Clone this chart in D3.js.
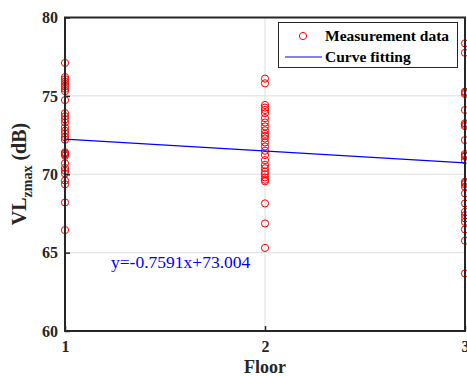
<!DOCTYPE html>
<html><head><meta charset="utf-8">
<script src="https://cdn.jsdelivr.net/npm/d3@7"></script>
<style>body{margin:0;background:#fff}svg{display:block}</style>
</head><body>
<script>
const floor1 = [77.1,76.2,76.06,75.9,75.75,75.6,75.45,75.3,74.73,73.9,73.7,73.5,73.3,73.0,72.78,72.6,72.37,72.2,71.4,71.33,71.27,71.18,70.7,70.4,70.22,70.05,69.6,69.36,68.2,66.44];
const floor2 = [76.1,75.8,74.42,74.25,74.1,73.9,73.58,73.3,73.05,72.8,72.58,72.45,72.28,72.03,71.77,71.5,71.23,70.9,70.6,70.38,70.17,70.0,69.8,69.65,69.55,68.14,66.86,65.3];
const floor3 = [78.35,77.75,75.27,75.2,75.12,74.1,73.25,73.15,73.07,72.18,71.29,71.2,71.12,70.9,69.52,69.45,69.37,69.2,68.78,68.14,67.6,67.39,67.18,66.96,66.48,65.76,63.67];
const fitSlope = -0.7591, fitIntercept = 73.004;
const xTicks = [1,2,3];
const yTicks = [60,65,70,75,80];
const equationText = "y=-0.7591x+73.004";
const legendLabels = ["Measurement data","Curve fitting"];

const W=467,H=376;
const svg=d3.select("body").append("svg").attr("width",W).attr("height",H);
const x=d3.scaleLinear().domain([1,3]).range([65,465]);
const y=d3.scaleLinear().domain([60,80]).range([331,17.5]);
const font="'Liberation Serif','Times New Roman',serif";

// grid
svg.append("g").selectAll("line").data(yTicks).join("line")
  .attr("x1",x(1)).attr("x2",x(3)).attr("y1",d=>y(d)).attr("y2",d=>y(d))
  .attr("stroke","#dedede").attr("stroke-width",1);
svg.append("g").selectAll("line").data(xTicks).join("line")
  .attr("x1",d=>x(d)).attr("x2",d=>x(d)).attr("y1",y(60)).attr("y2",y(80))
  .attr("stroke","#dedede").attr("stroke-width",1);

// points
const pts=[];
[floor1,floor2,floor3].forEach((arr,i)=>arr.forEach(v=>pts.push([i+1,v])));
svg.append("g").selectAll("circle").data(pts).join("circle")
  .attr("cx",d=>x(d[0])).attr("cy",d=>y(d[1])).attr("r",3.6)
  .attr("fill","none").attr("stroke","#ff0000").attr("stroke-width",1);

// fit line
svg.append("line").attr("x1",x(1)).attr("x2",x(3))
  .attr("y1",y(fitSlope*1+fitIntercept)).attr("y2",y(fitSlope*3+fitIntercept))
  .attr("stroke","#0000ff").attr("stroke-width",1.2);

// axes
const xa=svg.append("g").attr("transform",`translate(0,${y(60)})`)
  .call(d3.axisBottom(x).tickValues(xTicks).tickSize(-5).tickPadding(10).tickFormat(d3.format("d")));
const ya=svg.append("g").attr("transform",`translate(${x(1)},0)`)
  .call(d3.axisLeft(y).tickValues(yTicks).tickSize(-5).tickPadding(7));
[xa,ya].forEach(a=>{
  a.select(".domain").remove();
  a.selectAll(".tick line").attr("stroke","#262626").attr("stroke-width",1.5);
  a.selectAll("text").attr("font-family",font).attr("font-weight","bold").attr("font-size",16).attr("fill","#262626");
});
xa.selectAll("text").attr("y",20.5).attr("dy",0);

// box
svg.append("rect").attr("x",x(1)).attr("y",y(80)).attr("width",x(3)-x(1)).attr("height",y(60)-y(80))
  .attr("fill","none").attr("stroke","#262626").attr("stroke-width",2);

// axis labels
svg.append("text").attr("x",265).attr("y",372.5).attr("text-anchor","middle")
  .attr("font-family",font).attr("font-weight","bold").attr("font-size",18).attr("fill","#262626").text("Floor");
const yl=svg.append("text").attr("transform","translate(26,174) rotate(-90)").attr("text-anchor","middle")
  .attr("font-family",font).attr("font-weight","bold").attr("font-size",20).attr("fill","#262626");
yl.append("tspan").text("VL");
yl.append("tspan").attr("font-size",14).attr("dy",6).text("zmax");
yl.append("tspan").attr("dy",-6).text(" (dB)");

// equation
svg.append("text").attr("x",111).attr("y",268).attr("font-family",font).attr("font-size",17.5)
  .attr("fill","#0000ff").text(equationText);

// legend
const lg=svg.append("g");
lg.append("rect").attr("x",278.5).attr("y",22.5).attr("width",179).attr("height",45)
  .attr("fill","#fff").attr("stroke","#262626").attr("stroke-width",1);
lg.append("circle").attr("cx",303).attr("cy",36).attr("r",3.6).attr("fill","none").attr("stroke","#ff0000");
lg.append("line").attr("x1",285).attr("x2",322).attr("y1",57).attr("y2",57).attr("stroke","#0000ff").attr("stroke-width",1.2);
lg.selectAll("text.l").data(legendLabels).join("text").attr("class","l")
  .attr("x",325).attr("y",(d,i)=>41+i*20.5).attr("font-family",font).attr("font-weight","bold")
  .attr("font-size",15.5).attr("fill","#000").text(d=>d);
</script>
</body></html>
